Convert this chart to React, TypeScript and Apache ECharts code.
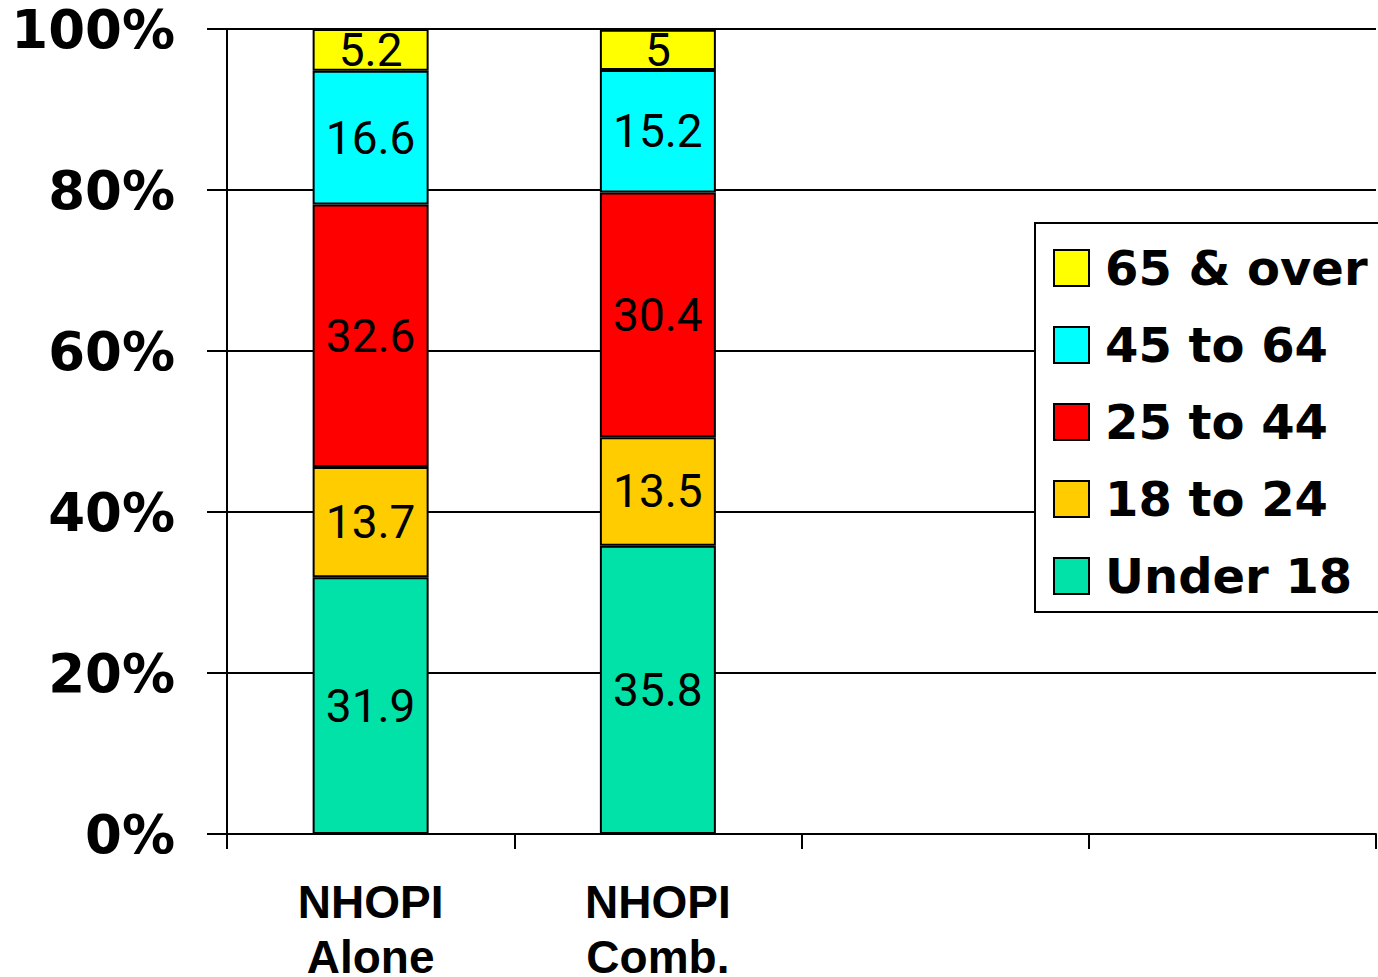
import React, { useEffect, useRef } from "react";
import * as echarts from "echarts";

const categories = ["NHOPI\nAlone", "NHOPI\nComb.", "", ""];
const seriesNames = ["Under 18", "18 to 24", "25 to 44", "45 to 64", "65 & over"];
const under18 = [31.9, 35.8, null, null];
const age18to24 = [13.7, 13.5, null, null];
const age25to44 = [32.6, 30.4, null, null];
const age45to64 = [16.6, 15.2, null, null];
const age65over = [5.2, 5, null, null];
const yTicks = [0, 20, 40, 60, 80, 100];
const colors = ["#00E2A8", "#FFCC00", "#FF0000", "#00FFFF", "#FFFF00"];

export default function App() {
  const ref = useRef<HTMLDivElement>(null);
  useEffect(() => {
    document.body.style.margin = "0";
    const chart = echarts.init(ref.current!, null, { renderer: "svg" });
    const values = [under18, age18to24, age25to44, age45to64, age65over];
    chart.setOption({
      animation: false,
      backgroundColor: "#fff",
      grid: { left: 227, top: 29, right: 2, bottom: 143, outerBoundsMode: "none", containLabel: false },
      legend: {
        orient: "vertical",
        left: 1035,
        top: 223,
        icon: "rect",
        backgroundColor: "#fff",
        borderColor: "#000",
        borderWidth: 2,
        padding: [21, 30, 12, 18],
        itemWidth: 35,
        itemHeight: 36,
        itemGap: 29,
        data: [...seriesNames].reverse(),
        textStyle: {
          fontFamily: "DejaVu Sans",
          fontWeight: "bold",
          fontSize: 48,
          lineHeight: 36,
          color: "#000",
          padding: [0, 0, 0, 11],
        },
      },
      xAxis: {
        type: "category",
        data: categories,
        axisLine: { lineStyle: { color: "#000", width: 2 } },
        axisTick: { show: true, length: 15, interval: 0, lineStyle: { color: "#000", width: 2 } },
        axisLabel: {
          fontFamily: "Liberation Sans",
          fontWeight: "bold",
          fontSize: 46,
          lineHeight: 55,
          margin: 40,
          color: "#000",
          interval: 0,
        },
      },
      yAxis: {
        type: "value",
        min: yTicks[0],
        max: yTicks[yTicks.length - 1],
        interval: 20,
        axisLine: { show: true, lineStyle: { color: "#000", width: 2 } },
        axisTick: { show: true, length: 20, lineStyle: { color: "#000", width: 2 } },
        splitLine: { lineStyle: { color: "#000", width: 2 } },
        axisLabel: {
          formatter: "{value}%",
          fontFamily: "DejaVu Sans",
          fontWeight: "bold",
          fontSize: 53,
          margin: 52,
          color: "#000",
        },
      },
      series: seriesNames.map((name, i) => ({
        name,
        type: "bar",
        stack: "total",
        barWidth: 116,
        data: values[i],
        itemStyle: { color: colors[i], borderColor: "#000", borderWidth: 2 },
        label: {
          show: true,
          position: "inside",
          color: "#000",
          fontFamily: "Roboto",
          fontSize: 46,
        },
      })),
    });
    return () => chart.dispose();
  }, []);
  return <div ref={ref} style={{ width: 1378, height: 977 }} />;
}
